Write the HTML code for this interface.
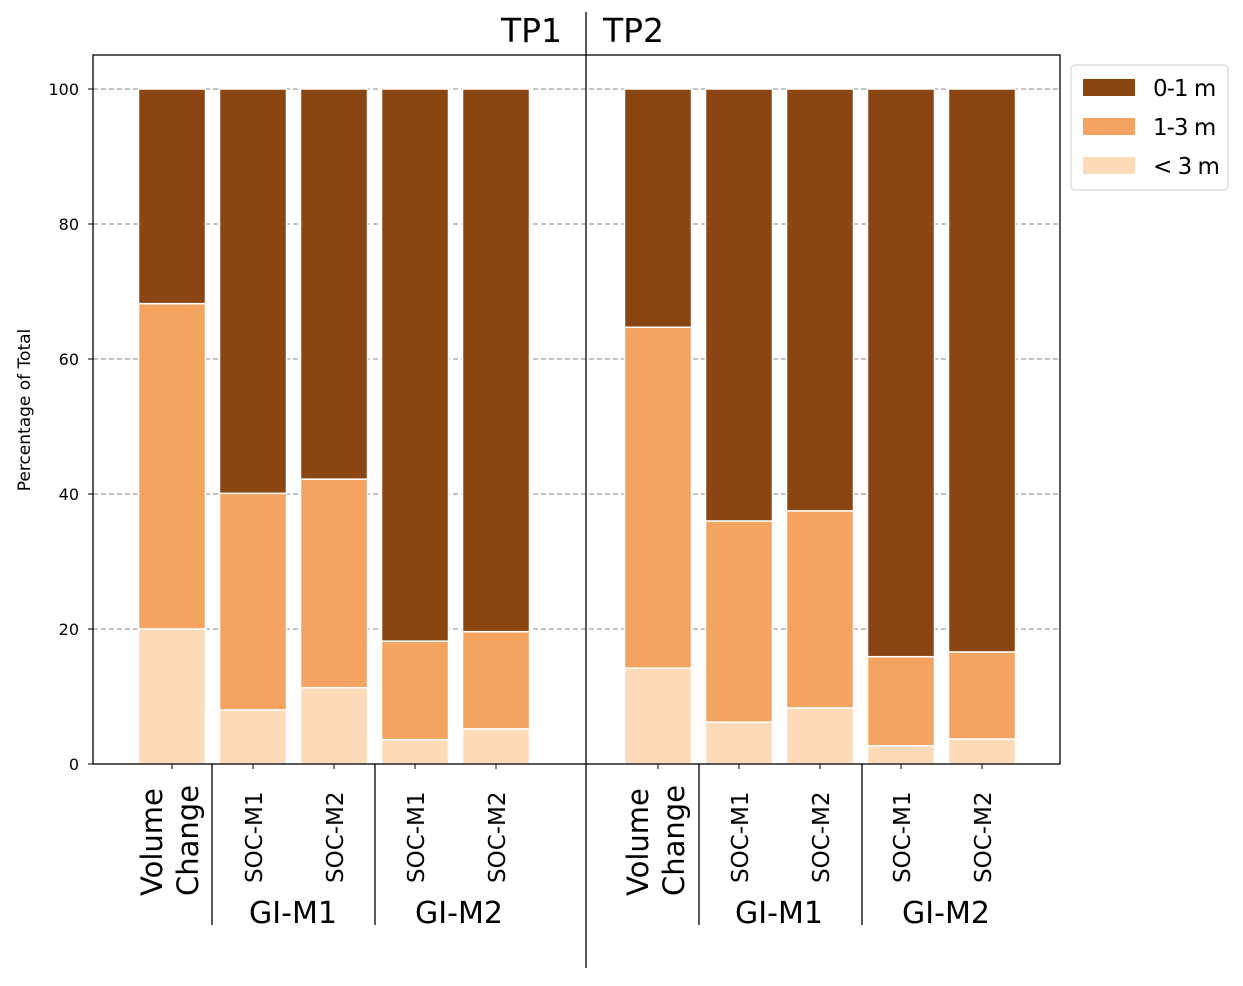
<!DOCTYPE html>
<html><head><meta charset="utf-8"><style>body{margin:0;background:#fff}svg{font-family:"DejaVu Sans","Liberation Sans",sans-serif}</style></head>
<body>
<svg id="c" width="1243" height="981" viewBox="0 0 1243 981" xmlns="http://www.w3.org/2000/svg"></svg>
<script>
const categories=["Volume Change","SOC-M1","SOC-M2","SOC-M1","SOC-M2","Volume Change","SOC-M1","SOC-M2","SOC-M1","SOC-M2"];
const positions=[0,1,2,3,4,6,7,8,9,10];
const lightVals=[20.0,8.0,11.3,3.6,5.2,14.2,6.2,8.3,2.7,3.7];
const midTops=[68.2,40.1,42.2,18.2,19.6,64.7,36.0,37.5,15.9,16.6];
const yTicks=[0,20,40,60,80,100];
const NS="http://www.w3.org/2000/svg";
const svg=document.getElementById('c');
const X0=93,X1=1060,Y0=55,Y1=764;
const x=i=>172+81*i;
const y=v=>764-6.75*v;
const BW=67;
function el(t,a,p){const e=document.createElementNS(NS,t);for(const k in a)e.setAttribute(k,a[k]);(p||svg).appendChild(e);return e;}
yTicks.forEach(t=>{
 const g=el('line',{x1:X0,x2:X1,y1:y(t),y2:y(t),stroke:'#888','stroke-dasharray':'5,3','stroke-width':1});
 
 
 const tk=el('line',{x1:X0-5,x2:X0,y1:y(t),y2:y(t),stroke:'#000'});
 
 
 const tx=el('text',{x:X0-14,y:y(t)+6,'text-anchor':'end','font-size':16});
 tx.textContent=t;
 
 
});
positions.forEach((p,i)=>{
 const cx=x(p);
 const segs=[[0,lightVals[i],'#FFDAB9'],[lightVals[i],midTops[i],'#F4A460'],[midTops[i],100,'#8B4513']];
 segs.forEach((s,j)=>{
  const r=el('rect',{x:cx-BW/2,y:y(s[1]),width:BW,height:y(s[0])-y(s[1]),fill:s[2],stroke:'#fff','stroke-width':1.5});
  
  
 });
 const tk=el('line',{x1:cx,x2:cx,y1:Y1,y2:Y1+5,stroke:'#000'});
 
 
 if(categories[i]==="Volume Change"){
  [["Volume",cx-10],["Change",cx+26]].forEach(w=>{
   const t=el('text',{transform:`translate(${w[1]},${896}) rotate(-90)`,'font-size':29});
   t.textContent=w[0];
   
   
  });
 }else{
  const t=el('text',{transform:`translate(${cx+9},${883}) rotate(-90)`,'font-size':23});
  t.textContent=categories[i];
  
  
 }
});
el('rect',{x:X0,y:Y0,width:X1-X0,height:Y1-Y0,fill:'none',stroke:'#000','stroke-width':1.3,});
el('line',{x1:586,x2:586,y1:12,y2:968,stroke:'#000','stroke-width':1.3,});
[212,375,699,862].forEach(sx=>el('line',{x1:sx,x2:sx,y1:Y1,y2:925,stroke:'#000','stroke-width':1.3,}));
[["GI-M1",293],["GI-M2",459],["GI-M1",779],["GI-M2",946]].forEach(g=>{
 const t=el('text',{x:g[1],y:923,'text-anchor':'middle','font-size':30,});t.textContent=g[0];
});
[["TP1",562,'end'],["TP2",603,'start']].forEach(g=>{
 const t=el('text',{x:g[1],y:42,'text-anchor':g[2],'font-size':33,});t.textContent=g[0];
});
const yt=el('text',{transform:'translate(30,410) rotate(-90)','text-anchor':'middle','font-size':17,});yt.textContent='Percentage of Total';
el('rect',{x:1071,y:65,width:157,height:125,rx:4,fill:'#fff',stroke:'#ccc',});
[["0-1 m",'#8B4513'],["1-3 m",'#F4A460'],["< 3 m",'#FFDAB9']].forEach((l,i)=>{
 el('rect',{x:1083,y:79+i*39,width:52,height:17,fill:l[1],});
 const t=el('text',{x:1153,y:96+i*39,'font-size':23,'letter-spacing':'-1',});t.textContent=l[0];
});
</script>
</body></html>
